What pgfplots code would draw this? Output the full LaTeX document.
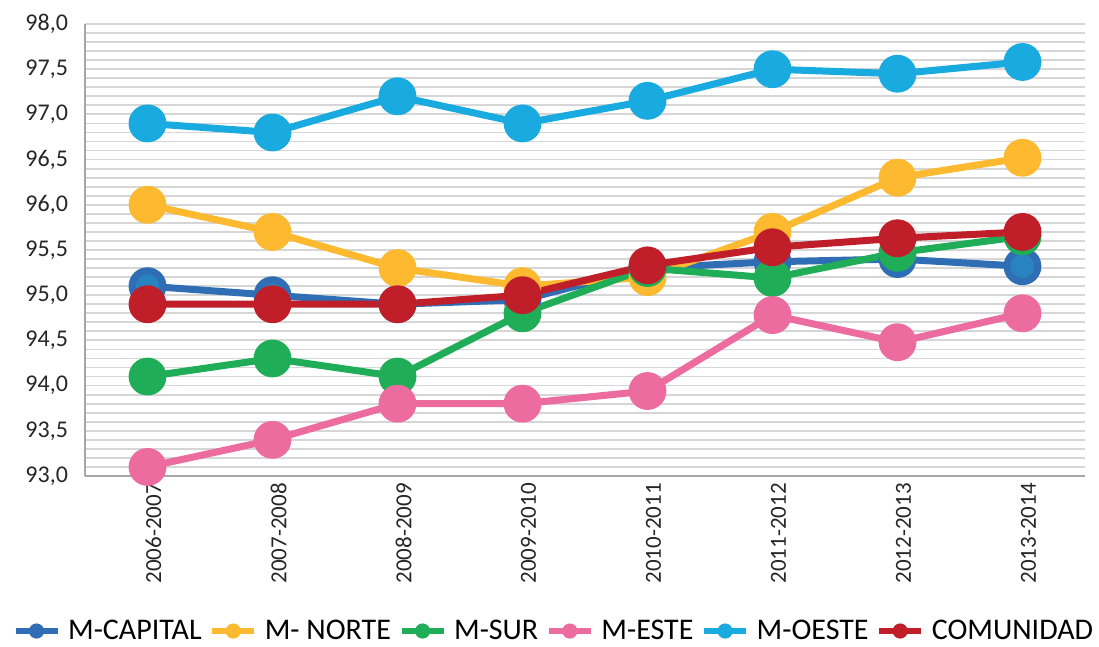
\documentclass[border=0pt]{standalone}
\usepackage{fontspec}
\setmainfont{Carlito}
\usepackage{pgfplots}
\pgfplotsset{compat=1.18}
\definecolor{ccap}{HTML}{2F6DB5}
\definecolor{cnor}{HTML}{FDBA30}
\definecolor{csur}{HTML}{20AD58}
\definecolor{cest}{HTML}{EC6CA0}
\definecolor{coes}{HTML}{19AADF}
\definecolor{ccom}{HTML}{C01F2A}
\definecolor{cgrid}{HTML}{D6D6D6}
\begin{document}
\begin{tikzpicture}
\begin{axis}[
  name=ax,
  scale only axis,
  width=500pt, height=226pt,
  xmin=-0.5, xmax=7.5,
  ymin=93, ymax=98,
  ytick={93,93.5,...,98},
  minor y tick num=4,
  ymajorgrids, yminorgrids,
  major grid style={cgrid, line width=0.9pt},
  minor grid style={cgrid, line width=0.9pt},
  xtick={0,...,7},
  xticklabels={2006-2007,2007-2008,2008-2009,2009-2010,2010-2011,2011-2012,2012-2013,2013-2014},
  x tick label style={rotate=90, anchor=east, font=\fontsize{11.5}{13}\selectfont, text=black!85, yshift=-3pt},
  y tick label style={font=\fontsize{12}{14}\selectfont, text=black!85, xshift=-5pt},
  /pgf/number format/fixed, /pgf/number format/fixed zerofill, /pgf/number format/precision=1,
  /pgf/number format/use comma, /pgf/number format/assume math mode=true,
  ytick style={draw=none}, xtick style={draw=none},
  minor tick style={draw=none},
  axis lines*=left,
  axis line style={gray!70, line width=1pt},
  clip=false,
  every axis plot/.append style={line width=3.5pt, mark=*, mark size=7.7pt},
  legend columns=6,
  legend style={at={(0.47,-0.343)}, anchor=center, draw=none, fill=none,
    font=\fontsize{15}{17}\selectfont, column sep=2pt, inner sep=0pt},
  legend image code/.code={\draw[#1,line width=2.6pt] (0pt,0pt) -- (21pt,0pt); \fill[#1,draw=none] (10.5pt,0pt) circle (3.8pt);},
]
\addplot[color=ccap, mark options={fill=ccap!85!cyan}] coordinates {(0,95.1)(1,95.0)(2,94.9)(3,94.95)(4,95.3)(5,95.37)(6,95.4)(7,95.32)};
\addlegendentry{M-CAPITAL}
\addplot[color=cnor] coordinates {(0,96.0)(1,95.7)(2,95.3)(3,95.1)(4,95.2)(5,95.7)(6,96.3)(7,96.52)};
\addlegendentry{M- NORTE}
\addplot[color=csur] coordinates {(0,94.1)(1,94.3)(2,94.1)(3,94.8)(4,95.3)(5,95.19)(6,95.47)(7,95.65)};
\addlegendentry{M-SUR}
\addplot[color=cest] coordinates {(0,93.1)(1,93.4)(2,93.8)(3,93.8)(4,93.94)(5,94.78)(6,94.48)(7,94.8)};
\addlegendentry{M-ESTE}
\addplot[color=coes] coordinates {(0,96.9)(1,96.8)(2,97.2)(3,96.9)(4,97.15)(5,97.5)(6,97.45)(7,97.58)};
\addlegendentry{M-OESTE}
\addplot[color=ccom] coordinates {(0,94.9)(1,94.9)(2,94.9)(3,95.0)(4,95.33)(5,95.53)(6,95.63)(7,95.7)};
\addlegendentry{COMUNIDAD}
\end{axis}
\pgfresetboundingbox
\path (ax.south west) ++(-42.5pt,-85.5pt) rectangle ++(549.5pt,323.5pt);
\end{tikzpicture}
\end{document}
